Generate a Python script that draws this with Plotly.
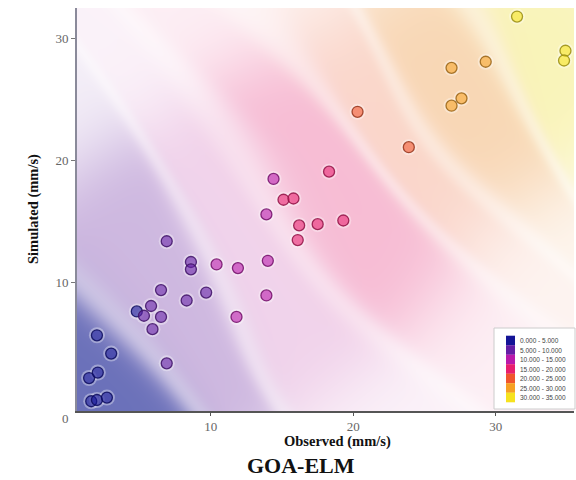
import base64
import struct
import zlib

import numpy as np
import plotly.graph_objects as go

# ---------------- data ----------------
observed = [2.0, 3.0, 1.45, 2.06, 1.6, 2.0, 2.7, 4.8, 5.3, 5.8, 6.5, 6.5, 5.9, 6.9,
            6.9, 8.6, 8.6, 8.3, 9.67, 10.4, 11.9, 11.8, 13.9, 14.0, 13.9, 16.1,
            16.2, 17.5, 19.3, 15.1, 15.8, 14.4, 18.3, 23.9, 20.3, 26.9, 27.6,
            26.9, 29.3, 31.5, 34.9, 34.8]
simulated = [5.7, 4.2, 2.2, 2.65, 0.3, 0.4, 0.6, 7.65, 7.3, 8.1, 9.4, 7.2, 6.2, 13.4,
             3.4, 11.7, 11.1, 8.55, 9.2, 11.5, 11.2, 7.2, 8.96, 11.8, 15.6, 13.5,
             14.7, 14.8, 15.1, 16.8, 16.9, 18.5, 19.1, 21.1, 24.0, 24.5, 25.1,
             27.6, 28.1, 31.8, 29.0, 28.2]
class_labels = ["0.000 - 5.000", "5.000 - 10.000", "10.000 - 15.000", "15.000 - 20.000",
                "20.000 - 25.000", "25.000 - 30.000", "30.000 - 35.000"]
class_colors = [(20, 20, 150), (100, 30, 165), (185, 25, 170), (232, 30, 110),
                (240, 85, 45), (246, 160, 35), (246, 226, 30)]
bg_colors = [(30, 40, 150), (120, 60, 170), (205, 100, 185), (232, 60, 130),
             (240, 120, 80), (238, 150, 60), (240, 225, 60)]
bg_strength = [0.66, 0.36, 0.28, 0.34, 0.3, 0.38, 0.36]
x_ticks = [10, 20, 30]
y_ticks = [10, 20, 30]
x_range = [0.6, 35.5]
y_range = [-0.5, 32.5]

# ---------------- layout geometry ----------------
W, H = 576, 480
L, R, T, B = 77, 574, 8, 411


def px(xp):
    return (xp - L) / (R - L)


def py(yp):
    return (B - yp) / (B - T)


obs = np.array(observed)
sim = np.array(simulated)
cls = np.minimum((obs // 5).astype(int), 6)
cols = np.array(class_colors, dtype=float)
bgc = np.array(bg_colors, dtype=float)

# ---------------- background interpolated surface ----------------
nx, ny = R - L, B - T
gx = x_range[0] + (np.arange(nx) + 0.5) * (x_range[1] - x_range[0]) / nx
gy = y_range[1] - (np.arange(ny) + 0.5) * (y_range[1] - y_range[0]) / ny
X, Y = np.meshgrid(gx, gy)
d2 = (X[..., None] - obs) ** 2 + (Y[..., None] - sim) ** 2
h = 3.4
d2m = d2.min(axis=2, keepdims=True)
w = np.exp(-(d2 - d2m) / (2 * h * h))
val = (w * obs).sum(axis=2) / w.sum(axis=2)
dens = np.exp(-d2 / (2 * 5.0 ** 2)).sum(axis=2)


def sig(z):
    return 1.0 / (1.0 + np.exp(-z))


s = 0.45
mem = []
for k in range(7):
    lo = sig((val - 5 * k) / s) if k > 0 else np.ones_like(val)
    hi = sig((val - 5 * (k + 1)) / s) if k < 6 else np.zeros_like(val)
    mem.append(lo - hi)
mem = np.stack(mem, axis=-1)
mem /= mem.sum(axis=-1, keepdims=True)
cc = mem @ bgc
amax = mem @ np.array(bg_strength)
alpha = 0.08 + (amax - 0.08) * (1 - np.exp(-dens / 1.2))
frac = (val / 5.0) % 1.0
bd = np.minimum(frac, 1 - frac) * 5.0
bd = np.where(val < 5, np.minimum(bd, 5 - val + 5), bd)
alpha *= 0.6 + 0.4 * (1 - np.exp(-(bd / 0.7) ** 2))
rgb = 255 * (1 - alpha[..., None]) + cc * alpha[..., None]
rgb = np.clip(rgb, 0, 255).astype(np.uint8)


def to_png(arr):
    hh, ww, _ = arr.shape
    raw = b"".join(b"\x00" + arr[i].tobytes() for i in range(hh))

    def chunk(tag, data):
        c = struct.pack(">I", len(data)) + tag + data
        return c + struct.pack(">I", zlib.crc32(tag + data) & 0xFFFFFFFF)

    return (b"\x89PNG\r\n\x1a\n" + chunk(b"IHDR", struct.pack(">IIBBBBB", ww, hh, 8, 2, 0, 0, 0))
            + chunk(b"IDAT", zlib.compress(raw, 9)) + chunk(b"IEND", b""))


src = "data:image/png;base64," + base64.b64encode(to_png(rgb)).decode()

fig = go.Figure()

# halo
fig.add_trace(go.Scatter(
    x=observed, y=simulated, mode="markers", hoverinfo="skip", showlegend=False,
    marker=dict(size=16, color="rgba(255,255,255,0.35)", line=dict(width=0)),
))
fill = ["rgba(%d,%d,%d,0.6)" % tuple(cols[c]) for c in cls]
edge = ["rgba(%d,%d,%d,0.85)" % tuple((cols[c] * 0.62).astype(int)) for c in cls]
fig.add_trace(go.Scatter(
    x=observed, y=simulated, mode="markers", showlegend=False,
    marker=dict(size=11, color=fill, line=dict(width=1.3, color=edge)),
))

fig.add_layout_image(dict(source=src, xref="x", yref="y", x=x_range[0], y=y_range[1],
                          sizex=x_range[1] - x_range[0], sizey=y_range[1] - y_range[0],
                          sizing="stretch", layer="below", xanchor="left", yanchor="top"))

tickfont = dict(family="Liberation Serif", size=13, color="#666666")
fig.update_xaxes(range=x_range, tickvals=x_ticks, ticks="outside", ticklen=3, tickwidth=1,
                 tickcolor="#555", showline=True, linecolor="#555", linewidth=1.5,
                 showgrid=False, zeroline=False, tickfont=tickfont)
fig.update_yaxes(range=y_range, tickvals=y_ticks, ticks="outside", ticklen=4, tickwidth=1,
                 tickcolor="#777", showline=True, linecolor="#8a8a9a", linewidth=2,
                 showgrid=False, zeroline=False, tickfont=tickfont)

ann = [
    dict(text="0", x=px(65), y=py(418), xref="paper", yref="paper", showarrow=False,
         font=tickfont, xanchor="center", yanchor="middle"),
    dict(text="<b>Observed (mm/s)</b>", x=px(337), y=py(441), xref="paper", yref="paper",
         showarrow=False, font=dict(family="Liberation Serif", size=14.5, color="#111"),
         xanchor="center", yanchor="middle"),
    dict(text="<b>Simulated (mm/s)</b>", x=px(33), y=py(209), xref="paper", yref="paper",
         showarrow=False, textangle=-90,
         font=dict(family="Liberation Serif", size=14.5, color="#111"),
         xanchor="center", yanchor="middle"),
    dict(text="<b>GOA-ELM</b>", x=px(301), y=py(465), xref="paper", yref="paper",
         showarrow=False, font=dict(family="Liberation Serif", size=22, color="#111"),
         xanchor="center", yanchor="middle"),
]

shapes = [dict(type="rect", xref="paper", yref="paper", x0=px(494), x1=px(575),
               y0=py(409), y1=py(328), fillcolor="white", line=dict(color="#cccccc", width=1))]
row0, step = 340.5, 9.5
for i, (lab, c) in enumerate(zip(class_labels, class_colors)):
    yc = row0 + i * step
    shapes.append(dict(type="rect", xref="paper", yref="paper", x0=px(506), x1=px(515),
                       y0=py(yc + 4.8), y1=py(yc - 4.8), fillcolor="rgb(%d,%d,%d)" % c,
                       line=dict(width=0)))
    ann.append(dict(text=lab, x=px(518), y=py(yc), xref="paper", yref="paper",
                    showarrow=False, xanchor="left", yanchor="middle",
                    font=dict(family="Liberation Sans", size=6.5, color="#444")))

fig.update_layout(
    width=W, height=H, margin=dict(l=L, r=W - R, t=T, b=H - B),
    plot_bgcolor="white", paper_bgcolor="white", showlegend=False,
    annotations=ann, shapes=shapes,
)

fig.write_html("out.html")
